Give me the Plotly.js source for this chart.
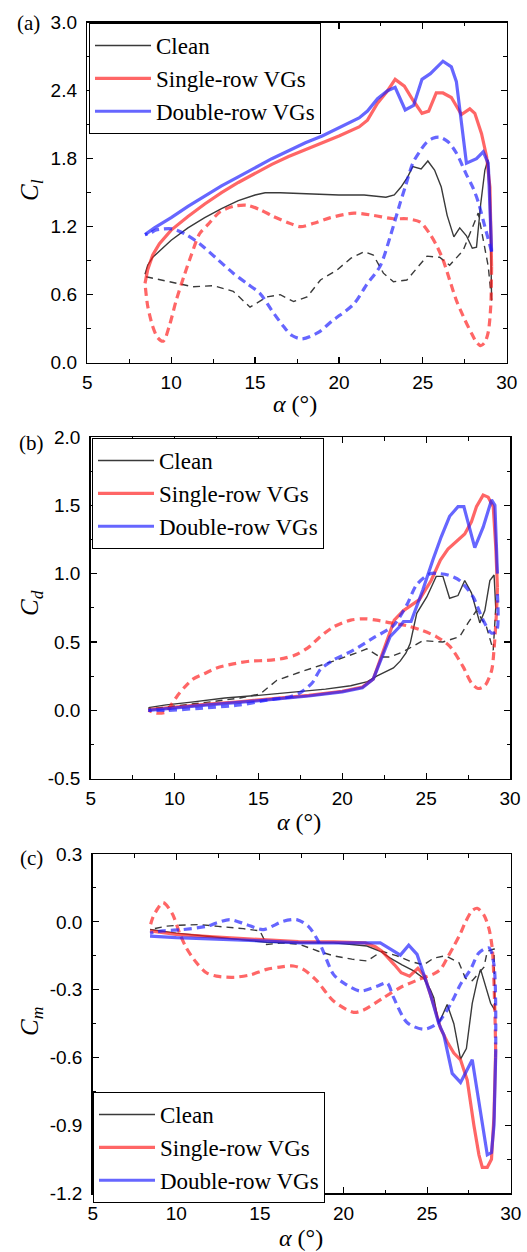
<!DOCTYPE html>
<html>
<head>
<meta charset="utf-8">
<script src="https://cdn.plot.ly/plotly-3.0.1.min.js"></script>
<style>html,body{margin:0;padding:0;background:#fff;}#chart{width:527px;height:1252px;}</style>
</head>
<body>
<div id="chart"></div>
<script>
// ---------- Series names ----------
const seriesNames = ["Clean", "Single-row VGs", "Double-row VGs"];

// ---------- Panel (a): lift coefficient Cl ----------
const a_cleanUp_alpha = [8.44, 8.6, 8.9, 9.4, 10, 11, 12, 13, 14, 15, 15.6, 16.5, 18, 20, 21.5, 22.8, 23.3, 23.7, 24.1, 24.4, 24.9, 25.3, 25.7, 26.1, 26.45, 26.85, 27.2, 27.6, 27.95, 28.2, 28.45, 28.7, 28.88, 29.0, 29.1];
const a_cleanUp_cl    = [0.78, 0.86, 0.93, 1.00, 1.08, 1.19, 1.28, 1.36, 1.43, 1.48, 1.50, 1.50, 1.49, 1.48, 1.48, 1.46, 1.48, 1.55, 1.64, 1.73, 1.71, 1.78, 1.70, 1.55, 1.30, 1.11, 1.19, 1.12, 1.01, 1.02, 1.40, 1.70, 1.79, 1.55, 0.55];
const a_cleanDn_alpha = [29.1, 28.9, 28.3, 27.9, 27.4, 26.6, 26.0, 25.25, 24.05, 23.25, 22.65, 22.05, 21.5, 20.7, 19.9, 18.9, 18.1, 17.3, 16.5, 15.7, 14.7, 13.7, 12.5, 11.3, 9.9, 8.44];
const a_cleanDn_cl    = [0.55, 0.85, 1.32, 1.18, 0.99, 0.86, 0.93, 0.94, 0.73, 0.715, 0.79, 0.95, 0.98, 0.92, 0.82, 0.73, 0.58, 0.54, 0.60, 0.58, 0.49, 0.63, 0.68, 0.67, 0.715, 0.76];

const a_singleUp_alpha = [8.44, 8.6, 8.9, 9.3, 10, 11, 12, 13, 14, 15, 16, 17, 18, 19, 20, 21.2, 21.7, 22.3, 22.9, 23.35, 23.9, 24.4, 24.95, 25.35, 25.8, 26.2, 26.7, 27.3, 27.8, 28.1, 28.5, 28.8, 29.0, 29.1];
const a_singleUp_cl    = [0.70, 0.82, 0.95, 1.05, 1.17, 1.29, 1.40, 1.50, 1.59, 1.67, 1.75, 1.82, 1.88, 1.94, 2.00, 2.08, 2.14, 2.29, 2.40, 2.50, 2.44, 2.32, 2.20, 2.22, 2.38, 2.38, 2.34, 2.19, 2.24, 2.20, 2.02, 1.82, 1.55, 0.85];
const a_singleDn_alpha = [29.1, 29.05, 28.9, 28.7, 28.45, 28.2, 27.9, 27.5, 27.0, 26.6, 26.2, 25.8, 25.4, 24.85, 24.05, 23.25, 22.05, 20.9, 19.5, 18.5, 17.7, 16.9, 16.1, 15.3, 14.5, 13.7, 12.9, 12.2, 11.7, 11.2, 10.8, 10.3, 9.9, 9.53, 9.2, 8.9, 8.6, 8.44];
const a_singleDn_cl    = [0.85, 0.50, 0.27, 0.18, 0.15, 0.18, 0.26, 0.38, 0.55, 0.73, 0.91, 1.04, 1.14, 1.24, 1.27, 1.27, 1.30, 1.32, 1.28, 1.23, 1.20, 1.24, 1.29, 1.35, 1.39, 1.38, 1.33, 1.22, 1.14, 0.95, 0.78, 0.55, 0.33, 0.19, 0.22, 0.32, 0.50, 0.70];

const a_doubleUp_alpha = [8.44, 9, 10, 11, 12, 13, 14, 15, 16, 17, 18, 19, 20, 21.2, 21.7, 22.3, 22.9, 23.35, 23.95, 24.45, 24.95, 25.45, 26.2, 26.7, 27.0, 27.6, 28.2, 28.6, 28.9, 29.0, 29.1];
const a_doubleUp_cl    = [1.13, 1.19, 1.28, 1.38, 1.47, 1.56, 1.64, 1.72, 1.80, 1.87, 1.94, 2.00, 2.07, 2.16, 2.22, 2.33, 2.40, 2.43, 2.23, 2.27, 2.50, 2.55, 2.66, 2.61, 2.48, 1.76, 1.80, 1.86, 1.76, 1.30, 0.98];
const a_doubleDn_alpha = [29.1, 28.7, 28.3, 28.0, 27.6, 27.0, 26.5, 26.0, 25.6, 25.2, 24.8, 24.4, 23.95, 23.65, 23.05, 22.45, 21.66, 20.9, 20.07, 19.6, 18.8, 17.8, 17.2, 16.7, 16.0, 15.3, 14.5, 13.7, 12.7, 11.7, 10.9, 10.1, 9.5, 9.1, 8.7, 8.44];
const a_doubleDn_cl    = [0.98, 1.20, 1.42, 1.54, 1.66, 1.85, 1.95, 1.99, 1.98, 1.94, 1.86, 1.76, 1.55, 1.41, 1.11, 0.85, 0.69, 0.52, 0.42, 0.37, 0.27, 0.21, 0.24, 0.32, 0.46, 0.61, 0.70, 0.79, 0.92, 1.05, 1.13, 1.18, 1.18, 1.17, 1.14, 1.13];

// ---------- Panel (b): drag coefficient Cd ----------
const b_cleanUp_alpha = [8.44, 9.5, 11, 13, 15, 17, 19, 20.5, 21.5, 22.05, 22.6, 23.05, 23.45, 23.8, 24.05, 24.44, 25.04, 25.6, 26.0, 26.4, 26.9, 27.3, 27.7, 28.2, 28.5, 28.8, 29.05, 29.15];
const b_cleanUp_cd    = [0.02, 0.04, 0.06, 0.09, 0.11, 0.13, 0.155, 0.18, 0.21, 0.25, 0.28, 0.31, 0.36, 0.42, 0.49, 0.71, 0.83, 0.98, 0.98, 0.82, 0.84, 0.95, 0.86, 0.64, 0.73, 0.95, 0.99, 0.75];
const b_cleanDn_alpha = [29.15, 29.0, 28.6, 28.0, 27.5, 27.0, 26.0, 24.8, 23.65, 22.85, 22.25, 21.46, 21.06, 19.47, 17.48, 16.1, 15.1, 13.9, 12, 10, 8.44];
const b_cleanDn_cd    = [0.75, 0.44, 0.61, 0.73, 0.64, 0.54, 0.50, 0.51, 0.43, 0.39, 0.39, 0.45, 0.43, 0.36, 0.28, 0.22, 0.12, 0.09, 0.06, 0.03, 0.01];

const b_singleUp_alpha = [8.44, 10, 12, 14, 16, 18, 20, 21.2, 21.85, 22.3, 22.85, 23.1, 23.65, 24.6, 25.3, 25.85, 26.3, 27.3, 27.7, 28.0, 28.4, 28.7, 29.0, 29.15, 29.25];
const b_singleUp_cd    = [0.005, 0.025, 0.045, 0.065, 0.085, 0.11, 0.14, 0.17, 0.23, 0.38, 0.56, 0.66, 0.73, 0.81, 0.95, 1.10, 1.18, 1.29, 1.38, 1.49, 1.575, 1.56, 1.49, 1.20, 0.90];
const b_singleDn_alpha = [29.25, 29.2, 29.05, 28.9, 28.5, 28.1, 27.7, 27.2, 26.4, 25.6, 24.64, 23.84, 22.9, 22.05, 21.3, 20.5, 19.47, 18.6, 18.08, 17.3, 16.49, 15.5, 14.5, 13.5, 12.51, 11.8, 11.12, 10.6, 10.13, 9.8, 9.53, 8.94, 8.44];
const b_singleDn_cd    = [0.90, 0.73, 0.45, 0.29, 0.18, 0.16, 0.20, 0.32, 0.47, 0.54, 0.59, 0.62, 0.64, 0.66, 0.67, 0.66, 0.61, 0.53, 0.47, 0.41, 0.38, 0.365, 0.36, 0.34, 0.31, 0.27, 0.23, 0.17, 0.10, 0.04, -0.01, -0.02, 0.0];

const b_doubleUp_alpha = [8.44, 10, 12, 14, 16, 18, 20, 21.2, 21.85, 22.35, 22.85, 23.4, 23.65, 24.1, 24.8, 25.4, 25.9, 26.4, 26.9, 27.25, 27.9, 28.4, 28.9, 29.1, 29.25];
const b_doubleUp_cd    = [0.0, 0.02, 0.04, 0.06, 0.08, 0.105, 0.135, 0.165, 0.23, 0.39, 0.54, 0.61, 0.65, 0.65, 0.88, 1.10, 1.27, 1.42, 1.49, 1.49, 1.19, 1.34, 1.54, 1.50, 1.00];
const b_doubleDn_alpha = [29.25, 29.2, 28.9, 28.4, 27.8, 27.0, 26.3, 25.83, 25.24, 24.44, 23.84, 23.05, 21.85, 20.66, 19.5, 18.7, 18.2, 17.5, 16.9, 15.5, 13.9, 11.5, 9.53, 8.44];
const b_doubleDn_cd    = [0.85, 0.58, 0.565, 0.66, 0.83, 0.95, 0.99, 1.00, 1.00, 0.92, 0.77, 0.62, 0.53, 0.44, 0.37, 0.30, 0.20, 0.13, 0.10, 0.075, 0.04, 0.015, 0.0, 0.0];

// ---------- Panel (c): moment coefficient Cm ----------
const c_cleanUp_alpha = [8.43, 10, 12, 14, 15.4, 17, 19.4, 20.5, 21.4, 22.2, 22.8, 23.5, 24.2, 24.8, 25.2, 25.4, 25.7, 26.2, 26.6, 27.0, 27.35, 27.7, 28.0, 28.2, 28.5, 28.8, 29.05];
const c_cleanUp_cm    = [-0.034, -0.05, -0.065, -0.08, -0.09, -0.093, -0.093, -0.10, -0.107, -0.13, -0.16, -0.19, -0.217, -0.25, -0.30, -0.335, -0.45, -0.365, -0.45, -0.607, -0.56, -0.36, -0.26, -0.21, -0.29, -0.36, -0.39];
const c_cleanDn_alpha = [29.05, 29.0, 28.6, 28.4, 27.7, 27.3, 26.9, 26.1, 25.4, 24.8, 24.0, 23.2, 22.3, 21.4, 20.5, 19.4, 18.5, 17.4, 16.4, 15.4, 15.0, 14.0, 12.5, 11.4, 10.2, 9.4, 8.43];
const c_cleanDn_cm    = [-0.39, -0.12, -0.13, -0.20, -0.26, -0.25, -0.18, -0.15, -0.16, -0.19, -0.175, -0.15, -0.13, -0.173, -0.165, -0.15, -0.13, -0.10, -0.093, -0.10, -0.04, -0.03, -0.02, -0.012, -0.015, -0.019, -0.034];

const c_singleUp_alpha = [8.43, 10, 12, 14, 15.4, 17.3, 19.4, 21.3, 21.9, 22.3, 22.7, 23.05, 23.45, 23.95, 24.45, 24.85, 25.45, 25.8, 26.2, 26.6, 27.0, 27.4, 27.8, 28.1, 28.3, 28.6, 28.85, 29.0, 29.1];
const c_singleUp_cm    = [-0.04, -0.055, -0.065, -0.075, -0.08, -0.087, -0.088, -0.093, -0.11, -0.13, -0.16, -0.19, -0.225, -0.24, -0.205, -0.24, -0.38, -0.47, -0.53, -0.58, -0.61, -0.70, -0.90, -1.03, -1.085, -1.085, -1.05, -0.86, -0.57];
const c_singleDn_alpha = [29.1, 29.05, 28.9, 28.7, 28.4, 28.0, 27.7, 27.3, 27.0, 26.6, 26.2, 25.8, 25.4, 24.5, 23.4, 22.4, 21.2, 20.6, 19.4, 18.4, 17.6, 17.0, 16.2, 15.4, 14.4, 13.4, 12.4, 11.8, 11.2, 10.6, 10.2, 9.8, 9.4, 9.2, 8.9, 8.6, 8.43];
const c_singleDn_cm    = [-0.57, -0.39, -0.12, -0.03, 0.03, 0.06, 0.05, 0.0, -0.05, -0.107, -0.16, -0.21, -0.23, -0.255, -0.29, -0.335, -0.39, -0.40, -0.35, -0.26, -0.21, -0.195, -0.20, -0.21, -0.235, -0.245, -0.24, -0.225, -0.18, -0.115, -0.05, 0.03, 0.075, 0.085, 0.06, 0.02, -0.02];

const c_doubleUp_alpha = [8.43, 10, 12, 14, 15.4, 17.4, 19.4, 21, 22.2, 23.4, 23.9, 24.4, 24.8, 25.2, 25.7, 26.0, 26.5, 27.0, 27.35, 27.7, 28.0, 28.3, 28.6, 28.85, 29.0, 29.1];
const c_doubleUp_cm    = [-0.063, -0.07, -0.075, -0.08, -0.085, -0.093, -0.093, -0.093, -0.093, -0.147, -0.103, -0.144, -0.232, -0.32, -0.45, -0.50, -0.67, -0.71, -0.66, -0.61, -0.75, -0.88, -1.03, -1.02, -0.90, -0.60];
const c_doubleDn_alpha = [29.1, 29.0, 28.7, 28.1, 27.6, 27.0, 26.4, 25.6, 24.8, 23.8, 23.0, 22.6, 22.0, 21.0, 20.0, 19.4, 18.6, 17.9, 17.2, 16.4, 15.2, 14.2, 13.2, 12.4, 11.8, 10.4, 9.2, 8.43];
const c_doubleDn_cm    = [-0.60, -0.19, -0.115, -0.137, -0.21, -0.276, -0.365, -0.45, -0.475, -0.445, -0.335, -0.27, -0.285, -0.306, -0.27, -0.232, -0.10, -0.02, 0.01, 0.003, -0.034, -0.012, 0.01, -0.005, -0.02, -0.034, -0.04, -0.05];

// ---------- Tick labels ----------
const xTickVals = [5, 10, 15, 20, 25, 30];
const xTickText = ["5", "10", "15", "20", "25", "30"];
const aTickVals = [0, 0.6, 1.2, 1.8, 2.4, 3.0];
const aTickText = ["0.0", "0.6", "1.2", "1.8", "2.4", "3.0"];
const bTickVals = [-0.5, 0, 0.5, 1.0, 1.5, 2.0];
const bTickText = ["-0.5", "0.0", "0.5", "1.0", "1.5", "2.0"];
const cTickVals = [-1.2, -0.9, -0.6, -0.3, 0, 0.3];
const cTickText = ["-1.2", "-0.9", "-0.6", "-0.3", "0.0", "0.3"];

// ---------- Styles ----------
const COL_CLEAN = "#3a3a3a";
const COL_SINGLE = "rgba(255,30,30,0.68)";
const COL_DOUBLE = "rgba(30,30,255,0.68)";
const SERIF = "Liberation Serif, Times New Roman, serif";
const SANS = "Liberation Sans, Arial, sans-serif";

function mk(x, y, name, color, width, dash, showlegend, xa, ya, legend, shape) {
  return {
    x: x, y: y, type: "scatter", mode: "lines", name: name,
    line: {color: color, width: width, dash: dash, shape: shape || "linear", smoothing: 0.8},
    showlegend: showlegend, xaxis: xa, yaxis: ya, legend: legend, hoverinfo: "skip"
  };
}

const DASH_C = "7px,5px";
const DASH_V = "8px,5px";

function panel(xa, ya, leg, cU, cUy, cD, cDy, sU, sUy, sD, sDy, dU, dUy, dD, dDy) {
  return [
    mk(cU, cUy, seriesNames[0], COL_CLEAN, 1.4, "solid", true, xa, ya, leg),
    mk(cD, cDy, seriesNames[0], COL_CLEAN, 1.4, DASH_C, false, xa, ya, leg),
    mk(sU, sUy, seriesNames[1], COL_SINGLE, 3.2, "solid", true, xa, ya, leg),
    mk(sD, sDy, seriesNames[1], COL_SINGLE, 3.2, DASH_V, false, xa, ya, leg, "spline"),
    mk(dU, dUy, seriesNames[2], COL_DOUBLE, 3.2, "solid", true, xa, ya, leg),
    mk(dD, dDy, seriesNames[2], COL_DOUBLE, 3.2, DASH_V, false, xa, ya, leg, "spline")
  ];
}

const data = [].concat(
  panel("x", "y", "legend",
    a_cleanUp_alpha, a_cleanUp_cl, a_cleanDn_alpha, a_cleanDn_cl,
    a_singleUp_alpha, a_singleUp_cl, a_singleDn_alpha, a_singleDn_cl,
    a_doubleUp_alpha, a_doubleUp_cl, a_doubleDn_alpha, a_doubleDn_cl),
  panel("x2", "y2", "legend2",
    b_cleanUp_alpha, b_cleanUp_cd, b_cleanDn_alpha, b_cleanDn_cd,
    b_singleUp_alpha, b_singleUp_cd, b_singleDn_alpha, b_singleDn_cd,
    b_doubleUp_alpha, b_doubleUp_cd, b_doubleDn_alpha, b_doubleDn_cd),
  panel("x3", "y3", "legend3",
    c_cleanUp_alpha, c_cleanUp_cm, c_cleanDn_alpha, c_cleanDn_cm,
    c_singleUp_alpha, c_singleUp_cm, c_singleDn_alpha, c_singleDn_cm,
    c_doubleUp_alpha, c_doubleUp_cm, c_doubleDn_alpha, c_doubleDn_cm)
);

const W = 527, H = 1252;
function px(v) { return v / W; }
function py(v) { return 1 - v / H; }

function xAxis(l, r, anchor) {
  return {
    domain: [px(l), px(r)], anchor: anchor, range: [5, 30],
    tickmode: "array", tickvals: xTickVals, ticktext: xTickText,
    ticks: "inside", ticklen: 6, tickwidth: 1.2, tickcolor: "#000",
    minor: {ticks: "inside", ticklen: 3.5, tickwidth: 1, tickcolor: "#000", dtick: 2.5, tick0: 5, showgrid: false},
    showline: true, linecolor: "#000", linewidth: 1.5, mirror: "allticks",
    showgrid: false, zeroline: false, automargin: false,
    tickfont: {family: SANS, size: 19, color: "#000"}, ticklabelstandoff: 2
  };
}
function yAxis(top, bottom, anchor, range, tv, tt, minorDt) {
  return {
    domain: [py(bottom), py(top)], anchor: anchor, range: range,
    tickmode: "array", tickvals: tv, ticktext: tt,
    ticks: "inside", ticklen: 6, tickwidth: 1.2, tickcolor: "#000",
    minor: {ticks: "inside", ticklen: 3.5, tickwidth: 1, tickcolor: "#000", dtick: minorDt, tick0: 0, showgrid: false},
    showline: true, linecolor: "#000", linewidth: 1.5, mirror: "allticks",
    showgrid: false, zeroline: false, automargin: false,
    tickfont: {family: SANS, size: 19, color: "#000"}, ticklabelstandoff: 5
  };
}
function legendBox(l, t) {
  return {
    x: px(l), y: py(t), xanchor: "left", yanchor: "top",
    bgcolor: "#fff", bordercolor: "#000", borderwidth: 1,
    font: {family: SERIF, size: 23, color: "#000"},
    itemwidth: 56, tracegroupgap: 0, traceorder: "normal"
  };
}
function ann(text, x, y, size, angle) {
  return {text: text, x: px(x), y: py(y), xref: "paper", yref: "paper",
    showarrow: false, xanchor: "center", yanchor: "middle",
    font: {family: SERIF, size: size, color: "#000"}, textangle: angle || 0};
}

const layout = {
  width: W, height: H,
  margin: {l: 0, r: 0, t: 0, b: 0},
  paper_bgcolor: "#fff", plot_bgcolor: "#fff",
  showlegend: true,
  xaxis: xAxis(87.3, 506.7, "y"),
  yaxis: yAxis(22.7, 362.7, "x", [0, 3], aTickVals, aTickText, 0.3),
  xaxis2: xAxis(90.7, 510, "y2"),
  yaxis2: yAxis(437, 778.7, "x2", [-0.5, 2], bTickVals, bTickText, 0.25),
  xaxis3: xAxis(92.7, 510.7, "y3"),
  yaxis3: yAxis(854, 1193.3, "x3", [-1.2, 0.3], cTickVals, cTickText, 0.15),
  legend: legendBox(89, 23),
  legend2: legendBox(92, 438),
  legend3: legendBox(93, 1092),
  annotations: [
    ann("(a)", 28, 23, 21), ann("(b)", 31, 443, 21), ann("(c)", 31, 858, 21),
    ann("<i>C<sub>l</sub></i>", 31, 190, 25, -90),
    ann("<i>C<sub>d</sub></i>", 31, 603, 25, -90),
    ann("<i>C<sub>m</sub></i>", 31, 1022, 25, -90),
    ann("<i>α</i> (°)", 295, 404, 24),
    ann("<i>α</i> (°)", 299, 822, 24),
    ann("<i>α</i> (°)", 301, 1238, 24)
  ]
};

Plotly.newPlot("chart", data, layout, {staticPlot: true, displayModeBar: false});
</script>
</body>
</html>
